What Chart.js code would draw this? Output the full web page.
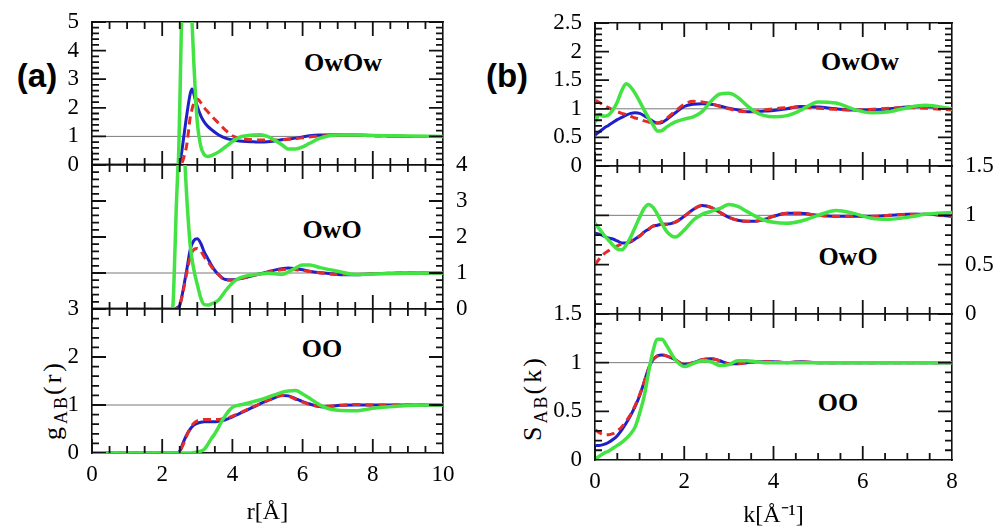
<!DOCTYPE html>
<html>
<head>
<meta charset="utf-8">
<script src="https://cdn.jsdelivr.net/npm/chart.js@4/dist/chart.umd.min.js"></script>
<style>
  body { margin: 0; background: #fff; }
  #page { position: relative; width: 1006px; height: 530px; overflow: hidden; }
  #page canvas { position: absolute; }
  .tag { position: absolute; transform: translate(-50%, -50%); font-family: "Liberation Sans", Arial, sans-serif; font-weight: bold; font-size: 33px; }
  .pair { position: absolute; transform: translate(-50%, -50%); font-family: "Liberation Serif", serif; font-weight: bold; font-size: 26px; white-space: nowrap; }
  .ytitle { position: absolute; transform: translate(-50%, -50%) rotate(-90deg); font-family: "Liberation Serif", serif; font-size: 26px; letter-spacing: 3px; white-space: nowrap; }
  .ytitle sub { font-size: 18px; letter-spacing: 2px; }
</style>
</head>
<body>
<div id="page">
  <div class="tag" style="left:37px;top:76px">(a)</div>
  <div class="tag" style="left:507px;top:76px">(b)</div>
  <div class="pair" style="left:343px;top:63px">OwOw</div>
  <div class="pair" style="left:332px;top:230px">OwO</div>
  <div class="pair" style="left:322px;top:349px">OO</div>
  <div class="pair" style="left:860px;top:62px">OwOw</div>
  <div class="pair" style="left:848px;top:257px">OwO</div>
  <div class="pair" style="left:838px;top:403px">OO</div>
  <div class="ytitle" style="left:55px;top:400px">g<sub>AB</sub>(r)</div>
  <div class="ytitle" style="left:535px;top:398px">S<sub>AB</sub>(k)</div>
</div>
<script>
// ---- data: (a) pair distribution functions g_AB(r)
const rTicks = [0, 2, 4, 6, 8, 10];
const gTicksOwOw = [0, 1, 2, 3, 4, 5];
const gTicksOwO = [0, 1, 2, 3, 4];
const gTicksOO = [0, 1, 2, 3];

const rGridOwOw = [0, 2.4, 2.45, 2.5, 2.55, 2.6, 2.7, 2.8, 2.85, 2.9, 2.95, 3.0, 3.1, 3.2, 3.3, 3.4, 3.6, 3.8, 4.0, 4.2, 4.4, 4.6, 4.8, 5.0, 5.2, 5.4, 5.6, 5.8, 6.0, 6.2, 6.5, 7.0, 7.5, 8.0, 9.0, 10.0];
const gOwOwBlue = [0, 0, 0, 0.05, 0.4, 0.85, 1.75, 2.5, 2.66, 2.5, 2.25, 2.05, 1.72, 1.5, 1.35, 1.24, 1.06, 0.94, 0.88, 0.84, 0.82, 0.81, 0.8, 0.81, 0.84, 0.88, 0.91, 0.94, 0.98, 1.02, 1.05, 1.06, 1.05, 1.03, 1.0, 1.0];
const gOwOwRed = [0, 0, 0, 0, 0.05, 0.2, 0.71, 1.68, 1.95, 2.17, 2.28, 2.31, 2.18, 2.0, 1.86, 1.72, 1.47, 1.22, 1.02, 0.93, 0.9, 0.88, 0.87, 0.87, 0.87, 0.88, 0.9, 0.92, 0.95, 0.98, 1.01, 1.04, 1.04, 1.02, 1.0, 1.0];
const gOwOwGreen = [0, 0, 0, 2.0, 5.0, 6.5, 7.2, 6.0, 5.0, 3.6, 2.4, 1.5, 0.65, 0.36, 0.3, 0.33, 0.45, 0.63, 0.82, 0.97, 1.02, 1.05, 1.06, 1.0, 0.87, 0.72, 0.56, 0.56, 0.63, 0.76, 0.94, 1.05, 1.05, 1.03, 1.01, 1.0];

const rGridOwO = [0, 2.25, 2.3, 2.35, 2.4, 2.45, 2.5, 2.55, 2.6, 2.65, 2.7, 2.8, 2.9, 3.0, 3.1, 3.2, 3.3, 3.4, 3.5, 3.6, 3.8, 4.0, 4.2, 4.4, 4.6, 4.8, 5.0, 5.2, 5.4, 5.6, 5.8, 6.0, 6.2, 6.5, 7.0, 7.5, 8.0, 9.0, 10.0];
const gOwOBlue = [0, 0, 0, 0, 0.02, 0.05, 0.1, 0.3, 0.55, 0.82, 1.09, 1.66, 1.9, 1.95, 1.82, 1.58, 1.4, 1.22, 1.07, 0.96, 0.82, 0.81, 0.84, 0.88, 0.93, 0.98, 1.03, 1.08, 1.12, 1.14, 1.12, 1.09, 1.05, 1.01, 0.96, 0.95, 0.98, 1.0, 1.0];
const gOwORed = [0, 0, 0, 0, 0.02, 0.05, 0.1, 0.28, 0.5, 0.75, 1.0, 1.45, 1.65, 1.68, 1.6, 1.45, 1.32, 1.18, 1.06, 0.96, 0.8, 0.8, 0.84, 0.88, 0.93, 0.98, 1.02, 1.06, 1.09, 1.1, 1.09, 1.07, 1.04, 1.0, 0.96, 0.96, 0.98, 1.0, 1.0];
const gOwOGreen = [0, 0, 0.05, 1.2, 2.8, 4.0, 4.8, 5.1, 4.8, 4.0, 3.1, 1.75, 1.1, 0.68, 0.3, 0.12, 0.11, 0.14, 0.18, 0.24, 0.5, 0.72, 0.86, 0.92, 0.95, 0.97, 0.99, 0.98, 0.96, 1.03, 1.14, 1.22, 1.22, 1.15, 1.05, 0.96, 0.97, 0.99, 1.0];

const rGridOO = [0, 2.3, 2.4, 2.5, 2.6, 2.7, 2.8, 2.9, 3.0, 3.1, 3.2, 3.3, 3.4, 3.5, 3.6, 3.7, 3.8, 3.9, 4.0, 4.2, 4.4, 4.6, 4.8, 5.0, 5.2, 5.4, 5.6, 5.8, 6.0, 6.2, 6.4, 6.6, 6.8, 7.0, 7.5, 8.0, 9.0, 10.0];
const gOOBlue = [0, 0, 0, 0.04, 0.22, 0.38, 0.5, 0.58, 0.62, 0.64, 0.65, 0.65, 0.65, 0.65, 0.66, 0.67, 0.69, 0.72, 0.75, 0.82, 0.89, 0.96, 1.03, 1.09, 1.15, 1.2, 1.19, 1.13, 1.07, 1.02, 0.98, 0.96, 0.97, 0.99, 1.0, 1.0, 1.0, 1.0];
const gOORed = [0, 0, 0, 0.03, 0.18, 0.36, 0.52, 0.62, 0.67, 0.69, 0.7, 0.7, 0.7, 0.7, 0.7, 0.71, 0.72, 0.74, 0.77, 0.83, 0.9, 0.96, 1.03, 1.09, 1.15, 1.2, 1.18, 1.12, 1.06, 1.01, 0.98, 0.97, 0.98, 0.99, 1.01, 1.0, 1.0, 1.0];
const gOOGreen = [0, 0, 0, 0, 0, 0, 0, 0.01, 0.02, 0.04, 0.08, 0.18, 0.3, 0.4, 0.53, 0.67, 0.78, 0.88, 0.95, 1.0, 1.03, 1.07, 1.11, 1.16, 1.21, 1.26, 1.29, 1.3, 1.23, 1.14, 1.04, 0.96, 0.91, 0.89, 0.88, 0.93, 0.99, 1.0];

// ---- data: (b) structure factors S_AB(k)
const kTicks = [0, 2, 4, 6, 8];
const sTicksOwOw = [0, 0.5, 1, 1.5, 2, 2.5];
const sTicksOwO = [0, 0.5, 1, 1.5];
const sTicksOO = [0, 0.5, 1, 1.5];

const kGrid = [0, 0.1, 0.2, 0.3, 0.4, 0.5, 0.6, 0.7, 0.8, 0.9, 1.0, 1.1, 1.2, 1.3, 1.4, 1.5, 1.6, 1.8, 2.0, 2.2, 2.4, 2.6, 2.8, 3.0, 3.2, 3.4, 3.6, 3.8, 4.0, 4.3, 4.6, 5.0, 5.4, 5.8, 6.2, 6.6, 7.0, 7.4, 8.0];
const sOwOwBlue = [0.54, 0.6, 0.66, 0.71, 0.76, 0.81, 0.85, 0.89, 0.92, 0.93, 0.92, 0.88, 0.83, 0.78, 0.75, 0.76, 0.81, 0.93, 1.04, 1.08, 1.09, 1.08, 1.05, 1.01, 0.98, 0.95, 0.95, 0.96, 0.97, 1.0, 1.04, 1.03, 1.0, 0.98, 0.98, 1.0, 1.03, 1.04, 0.99];
const sOwOwRed = [1.15, 1.11, 1.06, 1.02, 0.98, 0.95, 0.92, 0.9, 0.87, 0.84, 0.82, 0.79, 0.77, 0.75, 0.75, 0.78, 0.83, 0.96, 1.08, 1.13, 1.12, 1.09, 1.04, 1.0, 0.96, 0.95, 0.96, 0.98, 1.0, 1.02, 1.03, 1.01, 0.99, 0.98, 0.99, 1.01, 1.02, 1.01, 0.98];
const sOwOwGreen = [0.77, 0.9, 0.87, 0.89, 0.98, 1.12, 1.32, 1.44, 1.38, 1.27, 1.13, 0.98, 0.84, 0.72, 0.61, 0.62, 0.68, 0.77, 0.82, 0.86, 0.95, 1.13, 1.26, 1.27, 1.2, 1.06, 0.94, 0.88, 0.86, 0.88, 0.97, 1.12, 1.1, 0.99, 0.93, 0.95, 1.02, 1.06, 1.0];

const sOwOBlue = [0.82, 0.81, 0.79, 0.77, 0.76, 0.74, 0.72, 0.72, 0.73, 0.76, 0.79, 0.83, 0.86, 0.89, 0.9, 0.91, 0.91, 0.93, 0.99, 1.06, 1.1, 1.08, 1.03, 0.98, 0.95, 0.94, 0.94, 0.96, 0.99, 1.02, 1.02, 1.0, 0.99, 0.99, 0.99, 1.0, 1.01, 1.01, 0.99];
const sOwORed = [0.5, 0.56, 0.61, 0.64, 0.67, 0.69, 0.71, 0.72, 0.74, 0.76, 0.79, 0.83, 0.86, 0.89, 0.9, 0.91, 0.91, 0.93, 0.99, 1.06, 1.1, 1.08, 1.03, 0.98, 0.95, 0.94, 0.94, 0.96, 0.99, 1.02, 1.02, 1.0, 0.99, 0.99, 0.99, 1.0, 1.01, 1.01, 0.99];
const sOwOGreen = [0.92, 0.86, 0.8, 0.75, 0.7, 0.66, 0.65, 0.7, 0.78, 0.88, 0.98, 1.07, 1.11, 1.08, 1.01, 0.92, 0.84, 0.78, 0.85, 0.95, 1.01, 1.04, 1.07, 1.11, 1.09, 1.04, 0.99, 0.95, 0.93, 0.92, 0.94, 1.0, 1.05, 1.02, 0.97, 0.96, 0.98, 1.01, 1.03];

const sOOBlue = [0.15, 0.15, 0.16, 0.18, 0.21, 0.25, 0.31, 0.38, 0.46, 0.55, 0.66, 0.8, 0.94, 1.03, 1.07, 1.08, 1.07, 1.03, 0.98, 1.0, 1.03, 1.04, 1.02, 0.99, 0.99, 1.0, 1.01, 1.01, 1.01, 1.0, 1.01, 1.0, 1.0, 1.0, 1.0, 1.0, 1.0, 1.0, 1.0];
const sOORed = [0.31, 0.28, 0.26, 0.26, 0.27, 0.3, 0.34, 0.4, 0.47, 0.56, 0.67, 0.8, 0.94, 1.03, 1.07, 1.08, 1.07, 1.03, 0.98, 1.0, 1.03, 1.04, 1.02, 0.99, 0.99, 1.0, 1.01, 1.01, 1.01, 1.0, 1.01, 1.0, 1.0, 1.0, 1.0, 1.0, 1.0, 1.0, 1.0];
const sOOGreen = [0.01, 0.04, 0.07, 0.09, 0.12, 0.15, 0.18, 0.22, 0.27, 0.34, 0.48, 0.65, 0.9, 1.12, 1.24, 1.24, 1.18, 1.03, 0.96, 0.99, 1.02, 1.01, 0.97, 0.98, 1.02, 1.02, 1.01, 1.0, 1.0, 1.0, 1.0, 1.0, 1.0, 1.0, 1.0, 1.0, 1.0, 1.0, 1.0];

const refLevel = 1;

const BLUE = "#2020c8";
const RED = "#e52a2a";
const GREEN = "#42e342";
const INK = "#111111";
const TICK_FONT = { family: "Liberation Serif", size: 23 };

// minor tick positions between lo and hi
function stepsBetween(lo, hi, step) {
  const out = [];
  const n = Math.round((hi - lo) / step);
  for (let i = 0; i <= n; i++) out.push(+(lo + i * step).toFixed(6));
  return out;
}

// axis with border only; labels/title when asked
function axis(pos, values, o) {
  const horizontal = pos === "top" || pos === "bottom";
  return {
    type: "linear",
    position: pos,
    min: values[0],
    max: values[values.length - 1],
    display: true,
    grid: { display: false, drawTicks: false },
    border: { display: true, color: INK, width: 1.6 },
    ticks: { display: !!o.labels, autoSkip: false, maxRotation: 0, padding: o.pad || 0, color: "#000", font: TICK_FONT, callback: v => String(v) },
    title: o.title ? { display: true, text: o.title, color: "#000", font: { family: "Liberation Serif", size: 24 }, padding: { top: 0, bottom: o.titlePad || 0 } } : { display: false },
    afterBuildTicks: s => { s.ticks = values.map(v => ({ value: v })); },
    afterFit: s => {
      if (horizontal) s.height = o.size || 0; else s.width = o.size || 0;
      s.paddingTop = 0; s.paddingBottom = 0; s.paddingLeft = 0; s.paddingRight = 0;
    },
  };
}

// inward tick marks on all four sides, as short line segments in data space
function tickMarks(xMin, xMax, yMin, yMax, p, plotW, plotH) {
  const pts = [];
  const dx = px => px * (xMax - xMin) / plotW;
  const dy = px => px * (yMax - yMin) / plotH;
  const isMajor = (v, m) => Math.abs(v / m - Math.round(v / m)) < 1e-6;
  stepsBetween(xMin, xMax, 0.5).forEach(v => {
    const l = dy(isMajor(v, 2) ? 14 : 7);
    pts.push({ x: v, y: yMin }, { x: v, y: yMin + l }, { x: v, y: null });
    pts.push({ x: v, y: yMax }, { x: v, y: yMax - l }, { x: v, y: null });
  });
  stepsBetween(yMin, yMax, p.yMinor).forEach(v => {
    const l = dx(isMajor(v, p.yMajor) ? 14 : 7);
    pts.push({ x: xMin, y: v }, { x: xMin + l, y: v }, { x: xMin + l, y: null });
    pts.push({ x: xMax, y: v }, { x: xMax - l, y: v }, { x: xMax - l, y: null });
  });
  return pts;
}

function toPoints(grid, values) {
  return grid.map((v, i) => ({ x: v, y: values[i] }));
}

function makePanel(p) {
  const canvas = document.createElement("canvas");
  canvas.width = p.w;
  canvas.height = p.h;
  canvas.style.left = p.left + "px";
  canvas.style.top = p.top + "px";
  document.getElementById("page").appendChild(canvas);

  const xMin = p.xTicks[0], xMax = p.xTicks[p.xTicks.length - 1];
  const yMin = p.yTicks[0], yMax = p.yTicks[p.yTicks.length - 1];
  const plotW = p.w - p.padding.left - p.padding.right - p.yAxisW;
  const plotH = p.h - p.padding.top - p.padding.bottom - (p.xAxisH || 0);
  const other = p.ySide === "left" ? "right" : "left";
  const line = { pointRadius: 0, fill: false, cubicInterpolationMode: "monotone", xAxisID: "x", yAxisID: "y" };

  new Chart(canvas, {
    type: "line",
    data: {
      datasets: [
        { label: "ticks", data: tickMarks(xMin, xMax, yMin, yMax, p, plotW, plotH), borderColor: INK, borderWidth: 1.8,
          pointRadius: 0, fill: false, spanGaps: false, tension: 0, xAxisID: "x", yAxisID: "y", order: -1 },
        { ...line, label: "ref", data: [{ x: xMin, y: refLevel }, { x: xMax, y: refLevel }], borderColor: "#7a7a7a", borderWidth: 1, order: 3 },
        { ...line, label: "blue", data: toPoints(p.grid, p.blue), borderColor: BLUE, borderWidth: 3, order: 2 },
        { ...line, label: "red", data: toPoints(p.grid, p.red), borderColor: RED, borderWidth: 3, borderDash: [8, 5], order: 1 },
        { ...line, label: "green", data: toPoints(p.grid, p.green), borderColor: GREEN, borderWidth: 3.5, order: 0 },
      ],
    },
    options: {
      responsive: false,
      animation: false,
      devicePixelRatio: 1,
      layout: { autoPadding: false, padding: p.padding },
      plugins: { legend: { display: false }, tooltip: { enabled: false } },
      scales: {
        x: axis("bottom", p.xTicks, { labels: !!p.xTitle, pad: 8, size: p.xAxisH, title: p.xTitle, titlePad: p.titlePad }),
        xTop: axis("top", p.xTicks, {}),
        y: axis(p.ySide, p.yTicks, { labels: true, pad: 13, size: p.yAxisW }),
        yOther: axis(other, p.yTicks, {}),
      },
    },
  });
}

// (a) column: plot area x 92..443
makePanel({ left: 32, top: 8, w: 471, h: 171, padding: { top: 14, bottom: 14, left: 0, right: 60 },
  ySide: "left", yAxisW: 60, yTicks: gTicksOwOw, yMajor: 1, yMinor: 0.2, xTicks: rTicks,
  grid: rGridOwOw, blue: gOwOwBlue, red: gOwOwRed, green: gOwOwGreen });
makePanel({ left: 32, top: 151, w: 471, h: 172, padding: { top: 14, bottom: 14, left: 60, right: 0 },
  ySide: "right", yAxisW: 60, yTicks: gTicksOwO, yMajor: 1, yMinor: 0.2, xTicks: rTicks,
  grid: rGridOwO, blue: gOwOBlue, red: gOwORed, green: gOwOGreen });
makePanel({ left: 32, top: 295, w: 471, h: 235, padding: { top: 14, bottom: 0, left: 0, right: 60 },
  ySide: "left", yAxisW: 60, yTicks: gTicksOO, yMajor: 1, yMinor: 0.2, xTicks: rTicks, xAxisH: 77, xTitle: "r[Å]", titlePad: 3,
  grid: rGridOO, blue: gOOBlue, red: gOORed, green: gOOGreen });

// (b) column: plot area x 595..952
makePanel({ left: 535, top: 9, w: 467, h: 171, padding: { top: 14, bottom: 14, left: 0, right: 50 },
  ySide: "left", yAxisW: 60, yTicks: sTicksOwOw, yMajor: 0.5, yMinor: 0.1, xTicks: kTicks,
  grid: kGrid, blue: sOwOwBlue, red: sOwOwRed, green: sOwOwGreen });
makePanel({ left: 535, top: 152, w: 467, h: 176, padding: { top: 14, bottom: 14, left: 60, right: 0 },
  ySide: "right", yAxisW: 50, yTicks: sTicksOwO, yMajor: 0.5, yMinor: 0.1, xTicks: kTicks,
  grid: kGrid, blue: sOwOBlue, red: sOwORed, green: sOwOGreen });
makePanel({ left: 535, top: 300, w: 467, h: 230, padding: { top: 14, bottom: 0, left: 0, right: 50 },
  ySide: "left", yAxisW: 60, yTicks: sTicksOO, yMajor: 0.5, yMinor: 0.1, xTicks: kTicks, xAxisH: 70, xTitle: "k[Å⁻¹]", titlePad: 0,
  grid: kGrid, blue: sOOBlue, red: sOORed, green: sOOGreen });
</script>
</body>
</html>
